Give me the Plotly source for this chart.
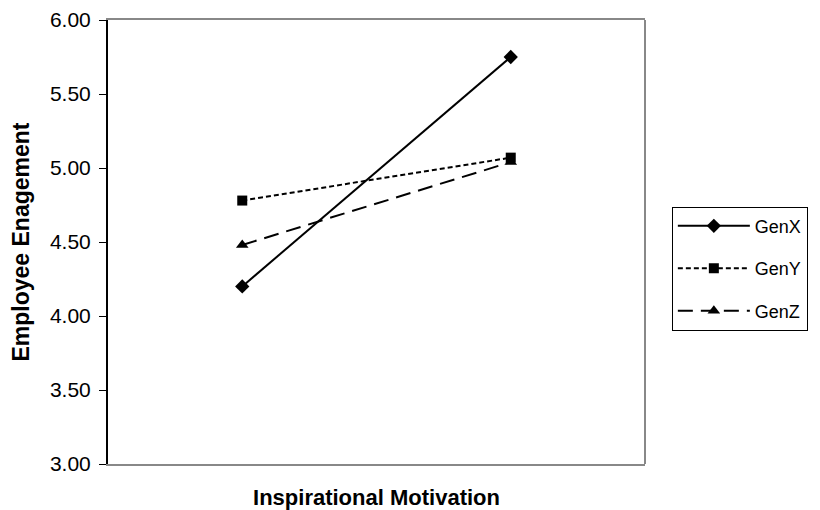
import plotly.graph_objects as go

categories = ["Low", "High"]
genx = [4.20, 5.75]
geny = [4.78, 5.07]
genz = [4.48, 5.04]
series_names = ["GenX", "GenY", "GenZ"]
y_ticks = [3.0, 3.5, 4.0, 4.5, 5.0, 5.5, 6.0]

FONT = "Liberation Sans, Arial, sans-serif"

fig = go.Figure()
styles = [
    (genx, "solid", "diamond", 11),
    (geny, "5px,3px", "square", 10),
    (genz, "15px,8px", "triangle-up", 11),
]
for name, (vals, dash, sym, size) in zip(series_names, styles):
    fig.add_trace(go.Scatter(
        x=categories, y=vals, name=name, legendgroup=name,
        mode="lines+markers",
        line=dict(color="black", width=2, dash=dash),
        marker=dict(symbol=sym, size=size, color="black"),
    ))

fig.update_layout(
    width=812, height=502,
    margin=dict(l=100, r=173, t=12, b=46),
    paper_bgcolor="white", plot_bgcolor="white",
    font=dict(family=FONT, color="black"),
    showlegend=True,
    legend=dict(
        x=1.05, xanchor="left", y=0.44, yanchor="middle",
        bordercolor="black", borderwidth=1,
        font=dict(size=18, family=FONT),
        tracegroupgap=16,
        itemwidth=72,
    ),
    xaxis=dict(
        type="category", range=[-0.5, 1.5], automargin=False,
        showticklabels=False, ticks="",
        showgrid=False, zeroline=False,
        showline=True, linecolor="#888888", linewidth=2, mirror=True,
        title=dict(text="<b>Inspirational Motivation</b>", font=dict(size=22, family=FONT), standoff=26),
    ),
    yaxis=dict(
        range=[3.0, 6.0], tickvals=y_ticks, tickformat=".2f", automargin=False,
        ticks="outside", ticklen=7, tickcolor="black", tickwidth=1,
        tickfont=dict(size=21, family=FONT), ticklabelstandoff=4,
        showgrid=False, zeroline=False,
        showline=True, linecolor="black", linewidth=2,
        title=dict(text="<b>Employee Enagement</b>", font=dict(size=23, family=FONT), standoff=18),
    ),
    shapes=[dict(type="line", xref="paper", yref="paper", x0=1, x1=1, y0=0, y1=1,
                 line=dict(color="#888888", width=2))],
)

fig.write_html("out.html")
